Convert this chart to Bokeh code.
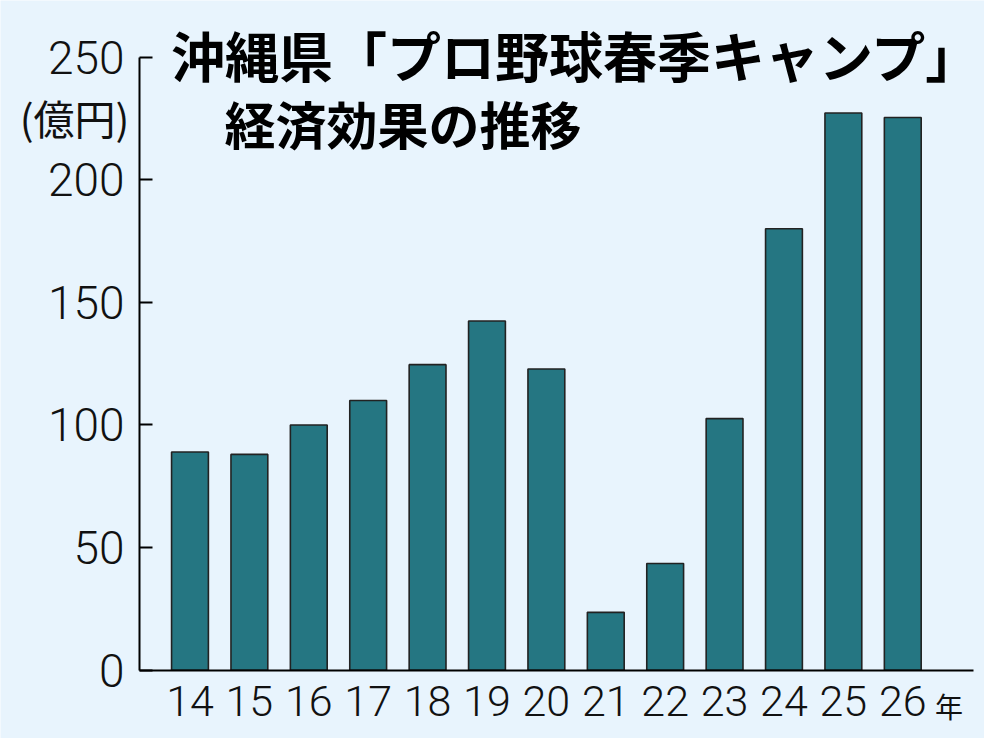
from bokeh.plotting import figure
from bokeh.models import Range1d, FixedTicker, Label
from bokeh.embed import file_html
from bokeh.resources import INLINE

years = [14, 15, 16, 17, 18, 19, 20, 21, 22, 23, 24, 25, 26]
year_labels = ["14", "15", "16", "17", "18", "19", "20", "21", "22", "23", "24", "25", "26"]
values = [89, 88, 100, 110, 124.6, 142.4, 122.8, 23.6, 43.5, 102.6, 180, 227.2, 225.4]
y_ticks = [0, 50, 100, 150, 200, 250]
title1 = "沖縄県「プロ野球春季キャンプ」"
title2 = "経済効果の推移"
unit_label = "(億円)"
year_suffix = "年"

BG = "#e8f4fd"
BAR = "#257682"
NUM_FONT = "Roboto Light"
CJK = "Noto Sans CJK JP"

X_AXIS_START, X_AXIS_END = 13.15, 27.19
Y_MIN, Y_MAX = 0, 250

p = figure(width=984, height=738, output_backend="svg", toolbar_location=None,
           x_range=Range1d(10.81, 27.376), y_range=Range1d(-27.85, 273.1),
           min_border=0)
p.background_fill_color = BG
p.border_fill_color = BG
p.outline_line_color = None
p.grid.grid_line_color = None

p.vbar(x=years, top=values, width=0.62, bottom=0, fill_color=BAR,
       line_color="#222222", line_width=1.6)

ya = p.yaxis[0]
ya.fixed_location = X_AXIS_START
ya.bounds = (Y_MIN, Y_MAX)
ya.ticker = FixedTicker(ticks=y_ticks)
ya.major_tick_in = 13
ya.major_tick_out = 0
ya.minor_tick_line_color = None
ya.axis_line_width = 2
ya.major_tick_line_width = 2
ya.axis_line_color = "black"
ya.major_tick_line_color = "black"
ya.major_label_text_font = NUM_FONT
ya.major_label_text_font_size = "46px"
ya.major_label_text_color = "#111111"
ya.major_label_standoff = 15

xa = p.xaxis[0]
xa.fixed_location = Y_MIN
xa.bounds = (X_AXIS_START, X_AXIS_END)
xa.ticker = FixedTicker(ticks=years)
xa.major_label_overrides = {y: s for y, s in zip(years, year_labels)}
xa.major_tick_line_color = None
xa.minor_tick_line_color = None
xa.axis_line_width = 2
xa.axis_line_color = "black"
xa.major_label_text_font = NUM_FONT
xa.major_label_text_font_size = "43px"
xa.major_label_text_color = "#111111"
xa.major_label_standoff = 10

p.add_layout(Label(x=13.68, y=250.9, text=title1, text_font=CJK, text_font_style="bold",
                   text_font_size="54px", text_align="left", text_baseline="middle",
                   text_color="black"))
p.add_layout(Label(x=14.58, y=223.3, text=title2, text_font=CJK, text_font_style="bold",
                   text_font_size="51px", text_align="left", text_baseline="middle",
                   text_color="black"))
p.add_layout(Label(x=12.98, y=225.4, text=unit_label, text_font=CJK,
                   text_font_size="41px", text_align="right", text_baseline="middle",
                   text_color="#111111"))
p.add_layout(Label(x=26.78, y=-14.6, text=year_suffix, text_font=CJK,
                   text_font_size="28px", text_align="center", text_baseline="middle",
                   text_color="#111111"))

open("out.html", "w").write(file_html(p, INLINE))
